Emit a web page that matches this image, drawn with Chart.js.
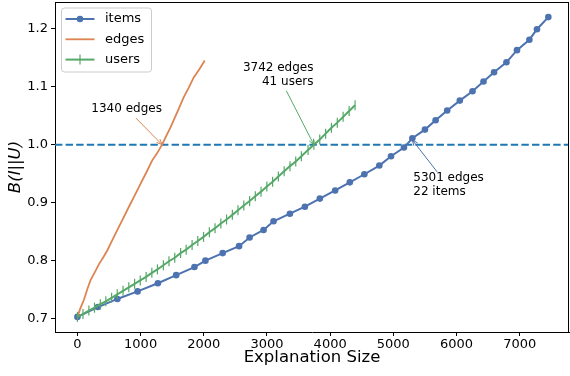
<!DOCTYPE html>
<html>
<head>
<meta charset="utf-8">
<title>B(I||U) vs Explanation Size</title>
<script src="https://cdn.jsdelivr.net/npm/chart.js"></script>
<style>
  body { margin: 0; background: #ffffff; }
  #chart { display: block; }
</style>
</head>
<body>
<canvas id="chart" width="570" height="376"></canvas>
<script>
// ---- data ----
var seriesNames = ['items', 'edges', 'users'];

var itemsX = [0, 325, 632, 952, 1273, 1563, 1852, 2026, 2299, 2558, 2725, 2946, 3104, 3363, 3600, 3837, 4079, 4311,
  4541, 4778, 4963, 5168, 5301, 5500, 5669, 5852, 6052, 6253, 6427, 6594, 6790, 6957, 7153, 7273, 7453];
var itemsY = [0.703, 0.720, 0.734, 0.747, 0.761, 0.775, 0.789, 0.800, 0.813, 0.825, 0.840, 0.853, 0.868, 0.881, 0.893,
  0.907, 0.921, 0.935, 0.949, 0.964, 0.980, 0.995, 1.011, 1.026, 1.042, 1.059, 1.076, 1.092, 1.109, 1.125, 1.142,
  1.163, 1.181, 1.199, 1.220];

var edgesX = [0, 40, 104, 160, 210, 280, 341, 410, 474, 550, 632, 720, 815, 905, 1000, 1090, 1184, 1260, 1340,
  1410, 1473, 1580, 1683, 1760, 1841, 1930, 2015];
var edgesY = [0.703, 0.716, 0.733, 0.752, 0.767, 0.781, 0.794, 0.806, 0.818, 0.835, 0.853, 0.872, 0.893, 0.912,
  0.933, 0.952, 0.973, 0.985, 1.000, 1.016, 1.030, 1.056, 1.082, 1.098, 1.116, 1.130, 1.145];

var usersX = [0, 88, 181, 270, 362, 449, 541, 630, 722, 813, 905, 994, 1087, 1178, 1266, 1360, 1449, 1540, 1633,
  1721, 1815, 1905, 1996, 2088, 2178, 2270, 2360, 2452, 2541, 2633, 2725, 2815, 2906, 2998, 3089, 3180, 3272,
  3364, 3455, 3545, 3650, 3742, 3835, 3928, 4020, 4113, 4205, 4300, 4394];
var usersY = [0.703, 0.708, 0.714, 0.719, 0.725, 0.730, 0.736, 0.742, 0.748, 0.754, 0.760, 0.766, 0.772, 0.779,
  0.785, 0.792, 0.799, 0.805, 0.813, 0.819, 0.827, 0.834, 0.841, 0.849, 0.856, 0.864, 0.871, 0.879, 0.887, 0.895,
  0.903, 0.911, 0.919, 0.928, 0.936, 0.945, 0.954, 0.963, 0.971, 0.980, 0.991, 1.000, 1.009, 1.019, 1.029, 1.038,
  1.048, 1.058, 1.068];

var threshold = 1.0;
var xTicks = [0, 1000, 2000, 3000, 4000, 5000, 6000, 7000];
var yTicks = [0.7, 0.8, 0.9, 1.0, 1.1, 1.2];

// ---- styling ----
var colors = { items: '#4c72b0', edges: '#dd8452', users: '#55a868', line: '#1f77b4' };
var FONT = '"DejaVu Sans", sans-serif';
var xRange = [-355, 7780];
var yRange = [0.677, 1.246];

// annotation positions, in data units
var notes = [
  { text: ['1340 edges'], at: [1340, 1.0], from: [925, 1.046], textAt: [778, 1.062], align: 'center', color: colors.edges },
  { text: ['3742 edges', '41 users'], at: [3742, 1.0], from: [3306, 1.093], textAt: [3736, 1.133], align: 'right', color: colors.users },
  { text: ['5301 edges', '22 items'], at: [5301, 1.008], from: [5694, 0.953], textAt: [5315, 0.942], align: 'left', color: colors.items }
];

function pts(xs, ys) {
  return xs.map(function (x, i) { return { x: x, y: ys[i] }; });
}

var extras = {
  id: 'extras',
  afterDatasetsDraw: function (chart) {
    var ctx = chart.ctx, a = chart.chartArea, sx = chart.scales.x, sy = chart.scales.y;
    ctx.save();

    // top and right spines
    ctx.strokeStyle = '#000';
    ctx.lineWidth = 1;
    ctx.beginPath();
    ctx.moveTo(a.left, a.top + 0.5); ctx.lineTo(a.right, a.top + 0.5);
    ctx.moveTo(a.right - 0.5, a.top); ctx.lineTo(a.right - 0.5, a.bottom);
    ctx.stroke();

    // annotations with arrows
    notes.forEach(function (n) {
      var tx = sx.getPixelForValue(n.at[0]), ty = sy.getPixelForValue(n.at[1]);
      var fx = sx.getPixelForValue(n.from[0]), fy = sy.getPixelForValue(n.from[1]);
      ctx.strokeStyle = n.color;
      ctx.lineWidth = 1;
      ctx.beginPath(); ctx.moveTo(fx, fy); ctx.lineTo(tx, ty); ctx.stroke();
      var ang = Math.atan2(ty - fy, tx - fx), h = 6, w = 0.4;
      ctx.beginPath();
      ctx.moveTo(tx - h * Math.cos(ang - w), ty - h * Math.sin(ang - w));
      ctx.lineTo(tx, ty);
      ctx.lineTo(tx - h * Math.cos(ang + w), ty - h * Math.sin(ang + w));
      ctx.stroke();
      ctx.fillStyle = '#000';
      ctx.font = '12px ' + FONT;
      ctx.textAlign = n.align;
      ctx.textBaseline = 'middle';
      var lx = sx.getPixelForValue(n.textAt[0]), ly = sy.getPixelForValue(n.textAt[1]);
      n.text.forEach(function (t, i) { ctx.fillText(t, lx, ly + i * 14); });
    });

    // legend box
    var bx = a.left + 6.5, by = a.top + 6, bw = 90, bh = 64, r = 3;
    ctx.beginPath();
    ctx.moveTo(bx + r, by);
    ctx.arcTo(bx + bw, by, bx + bw, by + bh, r);
    ctx.arcTo(bx + bw, by + bh, bx, by + bh, r);
    ctx.arcTo(bx, by + bh, bx, by, r);
    ctx.arcTo(bx, by, bx + bw, by, r);
    ctx.closePath();
    ctx.fillStyle = 'rgba(255,255,255,0.8)';
    ctx.fill();
    ctx.strokeStyle = '#cccccc';
    ctx.stroke();

    seriesNames.forEach(function (name, i) {
      var y = by + 11 + i * 20.3, x0 = bx + 4, x1 = bx + 33;
      var c = colors[name];
      ctx.strokeStyle = c;
      ctx.lineWidth = name === 'edges' ? 1.8 : 2;
      ctx.beginPath(); ctx.moveTo(x0, y); ctx.lineTo(x1, y); ctx.stroke();
      var mx = (x0 + x1) / 2;
      if (name === 'items') {
        ctx.fillStyle = c;
        ctx.beginPath(); ctx.arc(mx, y, 3.3, 0, Math.PI * 2); ctx.fill();
      } else if (name === 'users') {
        ctx.lineWidth = 1.2;
        ctx.beginPath(); ctx.moveTo(mx, y - 5); ctx.lineTo(mx, y + 5); ctx.stroke();
      }
      ctx.fillStyle = '#000';
      ctx.font = '13px ' + FONT;
      ctx.textAlign = 'left';
      ctx.textBaseline = 'middle';
      ctx.fillText(name, bx + 43.5, y);
    });

    ctx.restore();
  }
};

var ctx = document.getElementById('chart').getContext('2d');
var chart = new Chart(ctx, {
  type: 'scatter',
  data: {
    datasets: [
      {
        label: 'threshold',
        data: [{ x: xRange[0], y: threshold }, { x: xRange[1], y: threshold }],
        showLine: true, borderColor: colors.line, borderWidth: 2, borderDash: [7.4, 3.2],
        pointRadius: 0, order: 4
      },
      {
        label: seriesNames[0],
        data: pts(itemsX, itemsY),
        showLine: true, borderColor: colors.items, backgroundColor: colors.items, borderWidth: 2,
        pointRadius: 3.3, pointBorderWidth: 0, order: 3
      },
      {
        label: seriesNames[1],
        data: pts(edgesX, edgesY),
        showLine: true, borderColor: colors.edges, borderWidth: 1.8,
        pointRadius: 0, order: 2
      },
      {
        label: seriesNames[2],
        data: pts(usersX, usersY),
        showLine: true, borderColor: colors.users, borderWidth: 2,
        pointStyle: 'line', rotation: 90, pointRadius: 5,
        pointBorderColor: colors.users, pointBorderWidth: 1.2, order: 1
      }
    ]
  },
  options: {
    responsive: false,
    animation: false,
    devicePixelRatio: 1,
    layout: { autoPadding: false, padding: { top: 2, right: 1, left: 0, bottom: 0 } },
    plugins: { legend: { display: false }, tooltip: { enabled: false } },
    scales: {
      x: {
        type: 'linear', min: xRange[0], max: xRange[1],
        afterBuildTicks: function (s) { s.ticks = xTicks.map(function (v) { return { value: v }; }); },
        afterFit: function (s) { s.height = 44; s.paddingLeft = 0; s.paddingRight = 0; },
        ticks: { color: '#000', font: { family: FONT, size: 13 }, padding: 1, maxRotation: 0,
          callback: function (v) { return String(v); } },
        grid: { drawOnChartArea: false, drawTicks: true, tickLength: 4, tickColor: '#000', tickWidth: 1 },
        border: { display: true, color: '#000', width: 1 },
        title: { display: true, text: 'Explanation Size', color: '#000',
          font: { family: FONT, size: 16.5 }, padding: { top: 0, bottom: 8 } }
      },
      y: {
        type: 'linear', min: yRange[0], max: yRange[1],
        afterBuildTicks: function (s) { s.ticks = yTicks.map(function (v) { return { value: v }; }); },
        afterFit: function (s) { s.width = 55; s.paddingTop = 0; s.paddingBottom = 0; },
        ticks: { color: '#000', font: { family: FONT, size: 13 }, padding: 3,
          callback: function (v) { return Number(v).toFixed(1); } },
        grid: { drawOnChartArea: false, drawTicks: true, tickLength: 4, tickColor: '#000', tickWidth: 1 },
        border: { display: true, color: '#000', width: 1 },
        title: { display: true, text: 'B(I||U)', color: '#000',
          font: { family: FONT, size: 16.5, style: 'italic' }, padding: { top: 6, bottom: 0 } }
      }
    }
  },
  plugins: [extras]
});
</script>
</body>
</html>
